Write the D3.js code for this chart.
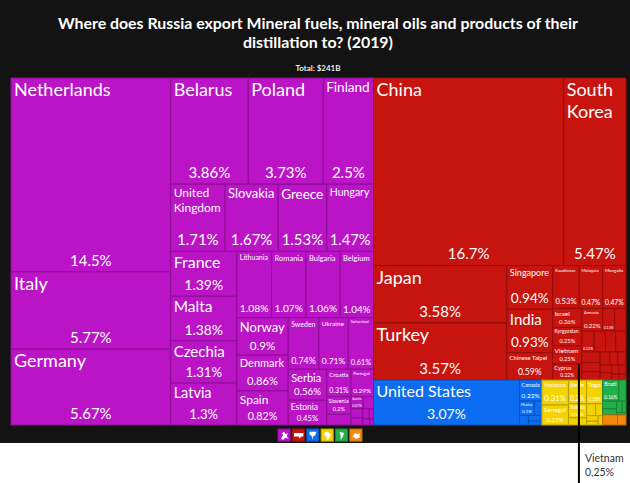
<!DOCTYPE html>
<html><head><meta charset="utf-8">
<script src="https://cdn.jsdelivr.net/npm/d3@7"></script>
<style>html,body{margin:0;padding:0;background:#fff;} svg{display:block;}</style>
</head><body><svg id="chart" width="630" height="483"></svg>
<script>
// ---------------- DATA ----------------
const titleLines = ["Where does Russia export Mineral fuels, mineral oils and products of their", "distillation to? (2019)"];
const totalLabel = "Total: $241B";
const continents = ["Europe", "Asia", "North America", "Africa", "South America", "Oceania"];
const continentColors = ["#BB14C7", "#C8140E", "#0C6DF3", "#F5D300", "#23B04B", "#F38A0B"];

const europeNames = ["Netherlands","Italy","Germany","Belarus","Poland","Finland","United Kingdom","Slovakia","Greece","Hungary","France","Malta","Czechia","Latvia","Lithuania","Romania","Bulgaria","Belgium","Norway","Denmark","Spain","Sweden","Ukraine","Switzerland","Serbia","Estonia","Croatia","Portugal","Slovenia","Ireland","Austria","Bosnia and Herzegovina","Moldova","Montenegro","North Macedonia","Luxembourg","Gibraltar","Albania"];
const europeShares = [14.5,5.77,5.67,3.86,3.73,2.5,1.71,1.67,1.53,1.47,1.39,1.38,1.31,1.3,1.08,1.07,1.06,1.04,0.9,0.86,0.82,0.74,0.71,0.61,0.56,0.45,0.31,0.29,0.2,0.12,0.07,0.06,0.05,0.04,0.03,0.02,0.02,0.01];

const asiaNames = ["China","South Korea","Japan","Turkey","Singapore","India","Chinese Taipei","Kazakhstan","Malaysia","Mongolia","Israel","Kyrgyzstan","Vietnam","Cyprus","Armenia","Georgia","Uzbekistan","Azerbaijan","Hong Kong","Thailand","Tajikistan","Lebanon","Saudi Arabia","United Arab Emirates","Turkmenistan","Indonesia","Sri Lanka","Philippines","Iraq","Syria","Pakistan","Bangladesh","Afghanistan"];
const asiaShares = [16.7,5.47,3.58,3.57,0.94,0.93,0.59,0.53,0.47,0.47,0.26,0.25,0.25,0.22,0.22,0.13,0.12,0.12,0.11,0.1,0.1,0.09,0.08,0.07,0.06,0.05,0.05,0.04,0.04,0.03,0.03,0.02,0.02];

const northAmericaNames = ["United States","Canada","Mexico","Cuba","Panama","Trinidad and Tobago","Jamaica","Costa Rica"];
const northAmericaShares = [3.07,0.22,0.1,0.05,0.04,0.03,0.02,0.01];

const africaNames = ["Morocco","Senegal","Benin","Togo","Tunisia","Egypt","Cameroon","Mauritania","Libya","Liberia","Algeria"];
const africaShares = [0.31,0.25,0.2,0.18,0.12,0.06,0.05,0.04,0.03,0.02,0.02];

const southAmericaNames = ["Brazil","Ecuador","Peru","Chile","Argentina","Colombia","Uruguay"];
const southAmericaShares = [0.16,0.07,0.05,0.04,0.03,0.02,0.01];

const oceaniaNames = ["New Zealand","Australia"];
const oceaniaShares = [0.07,0.04];

const annotationCountry = "Vietnam";
const annotationText = ["Vietnam", "0,25%"];

// ---------------- BUILD ----------------
const groupNames = [europeNames, asiaNames, northAmericaNames, africaNames, southAmericaNames, oceaniaNames];
const groupShares = [europeShares, asiaShares, northAmericaShares, africaShares, southAmericaShares, oceaniaShares];
const treeData = {
  name: "root",
  children: continents.map((c, i) => ({
    name: c, color: continentColors[i],
    children: groupNames[i].map((n, j) => ({ name: n, value: groupShares[i][j] }))
  }))
};

const svg = d3.select("#chart");
const FONT = "Lato, 'Source Sans Pro', 'Open Sans', sans-serif";

svg.append("rect").attr("x", 0).attr("y", 0).attr("width", 630).attr("height", 443).attr("fill", "#131313");

// Title
const title = svg.append("g");
titleLines.forEach((t, i) => {
  const tx = title.append("text")
    .attr("x", 318).attr("y", 29 + i * 19)
    .attr("text-anchor", "middle")
    .attr("fill", "#ffffff")
    .style("font-family", FONT).style("font-weight", 700).style("font-size", "16px")
    .text(t);
  const target = i === 0 ? 520 : 150;
  const len = tx.node().getComputedTextLength();
  if (len > target) tx.attr("textLength", target).attr("lengthAdjust", "spacingAndGlyphs");
});
svg.append("text").attr("x", 318).attr("y", 71).attr("text-anchor", "middle")
  .attr("fill", "#ffffff").style("font-family", FONT).style("font-size", "8px").style("font-weight", 600)
  .text(totalLabel);

// Treemap
const X0 = 11, Y0 = 78, TW = 615, TH = 347;
const root = d3.hierarchy(treeData).sum(d => d.value || 0).sort((a, b) => b.value - a.value);
d3.treemap().tile(d3.treemapSquarify).size([TW, TH]).paddingInner(0)(root);

const g = svg.append("g").attr("transform", `translate(${X0},${Y0})`);
const leaves = root.leaves();
const fmt = d3.format(".3~r");
const LH = 1.22;

const ctx = document.createElement("canvas").getContext("2d");
function tw(text, fs) { ctx.font = `${fs}px Lato, 'Source Sans Pro', 'Open Sans', sans-serif`; return ctx.measureText(text).width; }
function wrap(text, fs, maxW) {
  const words = text.split(" ");
  const lines = []; let cur = "";
  for (const w of words) {
    if (tw(w, fs) > maxW) return null;
    const t = cur ? cur + " " + w : w;
    if (tw(t, fs) <= maxW) cur = t; else { lines.push(cur); cur = w; }
  }
  lines.push(cur);
  return lines;
}

const cell = g.selectAll("g.cell").data(leaves).join("g").attr("class", "cell");
cell.append("rect")
  .attr("x", d => d.x0).attr("y", d => d.y0)
  .attr("width", d => d.x1 - d.x0).attr("height", d => d.y1 - d.y0)
  .attr("fill", d => d.parent.data.color)
  .attr("stroke", d => d3.color(d.parent.data.color).darker(0.8))
  .attr("stroke-width", 1);

cell.each(function (d) {
  const w = d.x1 - d.x0, h = d.y1 - d.y0;
  if (w < 12 || h < 9) return;
  const pad = Math.max(1, Math.min(3, Math.min(w, h) * 0.1));
  const innerW = w - 2 * pad;
  const pct = fmt(d.value) + "%";
  const pctFs = Math.min(15, innerW / tw(pct, 1), h / 3.2);
  if (pctFs < 3.5) return;
  let nameFs = null, lines = null;
  const maxName = Math.min(18, h / 2.8);
  for (let fs = Math.floor(maxName * 2) / 2; fs >= 3; fs -= 0.5) {
    const l = wrap(d.data.name, fs, innerW);
    if (l && l.length * fs * LH + pctFs * 1.1 + 2 * pad <= h) { nameFs = fs; lines = l; break; }
  }
  const sel = d3.select(this);
  if (nameFs) {
    const t = sel.append("text").attr("fill", "#ffffff").style("font-family", FONT).style("font-size", nameFs + "px");
    lines.forEach((ln, i) => {
      t.append("tspan").attr("x", d.x0 + pad).attr("y", d.y0 + pad + nameFs * 0.85 + i * nameFs * LH).text(ln);
    });
  }
  sel.append("text").attr("fill", "#ffffff").style("font-family", FONT).style("font-size", pctFs + "px")
    .attr("text-anchor", "middle")
    .attr("x", (d.x0 + d.x1) / 2).attr("y", d.y1 - pad - pctFs * 0.22)
    .text(pct);
});

// Legend icons
const iconShapes = [
  "2,8 4,5 3,3 5,2 6,4 8,3 7,6 9,8 6,7 4,9",
  "1,3 9,3 9,6 7,6 6,8 5,6 1,6",
  "2,2 8,2 7,5 5,6 5,9 4,6 2,4",
  "2,3 5,2 8,4 7,7 5,9 4,6 2,5",
  "3,2 7,3 6,6 4,9 4,5",
  "2,6 4,3 6,4 8,3 8,7 5,8"
];
const legendScale = d3.scaleBand().domain(continents).range([278, 278 + 14 * continents.length]).paddingInner(0.15);
const leg = svg.append("g").selectAll("g").data(continents).join("g")
  .attr("transform", d => `translate(${legendScale(d)},429)`);
leg.append("rect").attr("width", legendScale.bandwidth()).attr("height", legendScale.bandwidth())
  .attr("fill", (d, i) => continentColors[i]).attr("stroke", (d, i) => d3.color(continentColors[i]).darker(0.8));
leg.append("polygon").attr("points", (d, i) => iconShapes[i]).attr("fill", "#fff")
  .attr("transform", `translate(0.5,0.5) scale(${legendScale.bandwidth() / 10.5})`);

// Annotation
const v = leaves.find(d => d.data.name === annotationCountry);
const ax = X0 + v.x1 - 3;
svg.append("line").attr("x1", ax).attr("x2", ax).attr("y1", Y0 + v.y1).attr("y2", 483)
  .attr("stroke", "#000").attr("stroke-width", 2);
annotationText.forEach((t, i) => {
  svg.append("text").attr("x", ax + 6).attr("y", 462 + i * 14).attr("fill", "#333")
    .style("font-family", FONT).style("font-size", "10.5px").text(t);
});
</script>
</body></html>
